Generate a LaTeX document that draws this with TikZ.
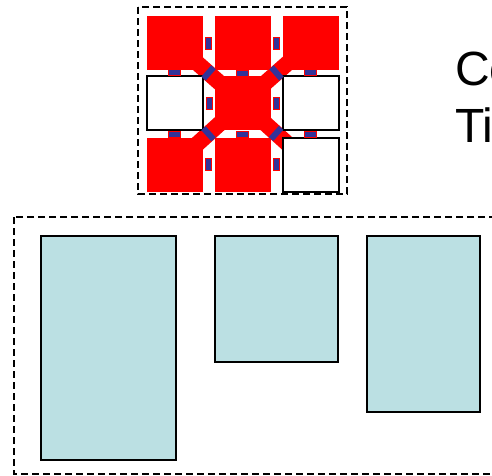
\documentclass[tikz,border=0pt]{standalone}
\usepackage{fontspec}
\setmainfont{Liberation Sans}
\usetikzlibrary{backgrounds}
\definecolor{tealfill}{RGB}{187,224,227}
\definecolor{linkblue}{RGB}{51,51,153}
\begin{document}
\begin{tikzpicture}[x=1pt,y=-1pt,
  sq/.style={rectangle, inner sep=0pt, minimum width=56pt, minimum height=54pt},
  redsq/.style={sq, fill=red},
  whsq/.style={sq, fill=white, draw=black, line width=2pt},
  linkbar/.style={rectangle, inner sep=0pt, minimum width=6pt, minimum height=12pt, fill=linkblue, draw=red, line width=0.5pt, sloped},
  diagbar/.style={linkbar, minimum height=15pt, draw=none},
  band/.style={draw=red, line width=16pt},
  dashbox/.style={draw=black, dash pattern=on 7pt off 4pt, line width=1.4pt},
  tealbox/.style={rectangle, inner sep=0pt, fill=tealfill, draw=black, line width=1.6pt, anchor=north west},
  lbl/.style={font=\fontsize{48}{57}\selectfont, anchor=base west, inner sep=0pt}]
\useasboundingbox (0,0) rectangle (492,475);

% top dashed frame
\draw[dashbox] (138,7) rectangle (347,194);

% grid of tiles
\node[redsq] (c11) at (174.5,43) {};
\node[redsq] (c12) at (242.5,43) {};
\node[redsq] (c13) at (310.5,43) {};
\node[whsq]  (c21) at (174.5,103) {};
\node[redsq] (c22) at (242.5,103) {};
\node[whsq]  (c23) at (310.5,103) {};
\node[redsq] (c31) at (174.5,164.5) {};
\node[redsq] (c32) at (242.5,164.5) {};
\node[whsq]  (c33) at (310.5,164.5) {};

% page background and diagonal bands under the tiles
\begin{pgfonlayer}{background}
\fill[white] (0,0) rectangle (492,475);
\draw[band] (c22.center) -- (c11.center);
\draw[band] (c22.center) -- (c13.center);
\draw[band] (c22.center) -- (c31.center);
\draw[band] (c22.center) -- (c33.center);
\end{pgfonlayer}

% horizontal links
\path (c11) -- node[linkbar] {} (c12);
\path (c12) -- node[linkbar] {} (c13);
\path (c21) -- node[linkbar] {} (c22);
\path (c22) -- node[linkbar] {} (c23);
\path (c31) -- node[linkbar] {} (c32);
\path (c32) -- node[linkbar] {} (c33);
% vertical links
\path (c11) -- node[linkbar] {} (c21);
\path (c21) -- node[linkbar] {} (c31);
\path (c12) -- node[linkbar] {} (c22);
\path (c22) -- node[linkbar] {} (c32);
\path (c13) -- node[linkbar] {} (c23);
\path (c23) -- node[linkbar] {} (c33);
% diagonal links
\path (c22) -- node[diagbar] {} (c11);
\path (c22) -- node[diagbar] {} (c13);
\path (c22) -- node[diagbar] {} (c31);
\path (c22) -- node[diagbar] {} (c33);

% text
\node[lbl] (co) at (455,85) {Co};
\node[lbl] (ti) at (455,142) {Ti};

% bottom dashed frame
\draw[dashbox] (14,217) rectangle (515,474);

% bottom boxes
\node[tealbox, minimum width=135pt, minimum height=224pt] (t1) at (40,235) {};
\node[tealbox, minimum width=123pt, minimum height=126pt] (t2) at (214,235) {};
\node[tealbox, minimum width=113pt, minimum height=176pt] (t3) at (366,235) {};
\end{tikzpicture}
\end{document}
